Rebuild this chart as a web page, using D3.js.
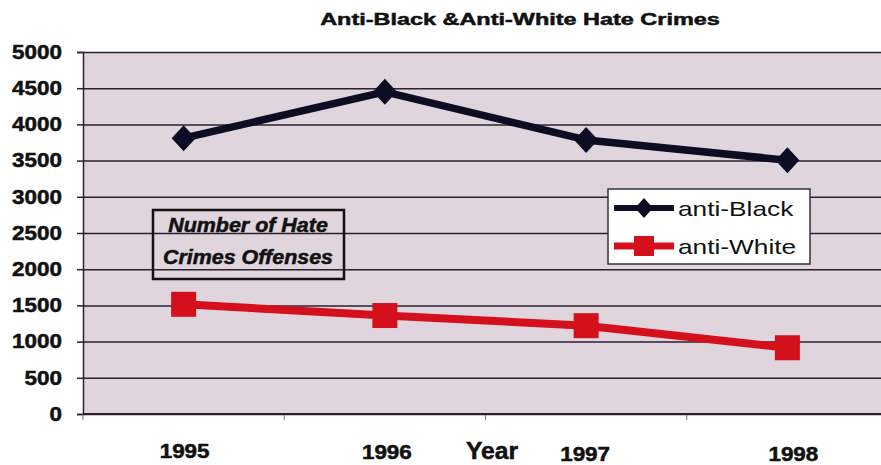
<!DOCTYPE html>
<html>
<head>
<meta charset="utf-8">
<script src="https://cdn.jsdelivr.net/npm/d3@7"></script>
<style>
  body { margin: 0; background: #fff; }
  svg { display: block; font-family: "Liberation Sans", Arial, sans-serif; }
</style>
</head>
<body>
<svg id="chart" width="881" height="465"></svg>
<script>
// chart data
var years = ["1995", "1996", "1997", "1998"];
var antiBlack = [3810, 4450, 3785, 3505];
var antiWhite = [1515, 1360, 1220, 915];
var yTicks = [0, 500, 1000, 1500, 2000, 2500, 3000, 3500, 4000, 4500, 5000];
var seriesNames = ["anti-Black", "anti-White"];

var svg = d3.select("#chart");
var margin = {top: 52, left: 83, bottom: 51, right: -7};
var width = 881 - margin.left - margin.right,
    height = 465 - margin.top - margin.bottom;

// the scanned text is wider than Arial, so stretch it sideways
function stretch(sel, k) {
  sel.each(function() {
    var len = this.getComputedTextLength();
    d3.select(this).attr("textLength", len * k).attr("lengthAdjust", "spacingAndGlyphs");
  });
}
// scanned print is a bit heavier too
function heavy(sel) {
  sel.attr("stroke", "#111").attr("stroke-width", 0.5);
}

var g = svg.append("g").attr("transform", "translate(" + margin.left + "," + margin.top + ")");

var x = d3.scaleBand().domain(years).range([0, width]);
var y = d3.scaleLinear().domain([0, 5000]).range([height, 0]);

// plot background
g.append("rect")
  .attr("width", width).attr("height", height)
  .attr("fill", "#e0d5dd");

// horizontal gridlines
g.append("g")
  .call(d3.axisLeft(y).tickValues(yTicks).tickSize(-width).tickFormat(""))
  .call(function(s) {
    s.select(".domain").remove();
    s.selectAll("line").attr("stroke", "#2b1f30").attr("stroke-width", 1.5);
  });

// y axis
var yAxis = g.append("g")
  .call(d3.axisLeft(y).tickValues(yTicks).tickFormat(d3.format("d")).tickSize(6).tickPadding(15))
  .call(function(s) {
    s.select(".domain").attr("stroke", "#2b1f30").attr("stroke-width", 1.5);
    s.selectAll("line").attr("stroke", "#2b1f30").attr("stroke-width", 1.5);
    s.selectAll("text").attr("font-size", 19.5).attr("font-weight", "bold")
      .attr("fill", "#111").attr("font-family", "Liberation Sans, Arial, sans-serif");
  });
stretch(yAxis.selectAll("text"), 1.15);
heavy(yAxis.selectAll("text"));

// x axis (ticks between categories)
var bounds = years.map(function(d) { return x(d); }).concat([width]);
g.append("g").selectAll("line").data(bounds).enter().append("line")
  .attr("x1", function(d) { return d; }).attr("x2", function(d) { return d; })
  .attr("y1", height).attr("y2", height + 6)
  .attr("stroke", "#777").attr("stroke-width", 1);
g.append("line").attr("x1", 0).attr("x2", width).attr("y1", height).attr("y2", height)
  .attr("stroke", "#2b1f30").attr("stroke-width", 2);

// the scan is slightly tilted, so labels drift a little
var labelDx = [1, 2, -1, 6];
var labelDy = [44, 45, 47, 47];
var xLabels = g.append("g").selectAll("text").data(years).enter().append("text")
  .attr("x", function(d, i) { return x(d) + x.bandwidth() / 2 + labelDx[i]; })
  .attr("y", function(d, i) { return height + labelDy[i]; })
  .attr("text-anchor", "middle")
  .attr("font-size", 19.5).attr("font-weight", "bold").attr("fill", "#111")
  .text(function(d) { return d; });
stretch(xLabels, 1.15);
heavy(xLabels);

var yearLabel = svg.append("text").attr("x", 492).attr("y", 459)
  .attr("text-anchor", "middle").attr("font-size", 23.5).attr("font-weight", "bold")
  .attr("fill", "#111").text("Year");
stretch(yearLabel, 1.05);
heavy(yearLabel);

// title
var title = svg.append("text").attr("x", 520).attr("y", 25)
  .attr("text-anchor", "middle").attr("font-size", 16.5).attr("font-weight", "bold")
  .attr("fill", "#111").text("Anti-Black &Anti-White Hate Crimes");
stretch(title, 1.42);
heavy(title);

// lines
var line = d3.line()
  .x(function(d, i) { return x(years[i]) + x.bandwidth() / 2; })
  .y(function(d) { return y(d); });

var blackCol = "#0c0d22", redCol = "#d3101c";

g.append("path").datum(antiWhite).attr("d", line)
  .attr("fill", "none").attr("stroke", redCol).attr("stroke-width", 8);
g.selectAll(".sq").data(antiWhite).enter().append("rect")
  .attr("x", function(d, i) { return x(years[i]) + x.bandwidth() / 2 - 12.5; })
  .attr("y", function(d) { return y(d) - 12.5; })
  .attr("width", 25).attr("height", 25).attr("fill", redCol);

g.append("path").datum(antiBlack).attr("d", line)
  .attr("fill", "none").attr("stroke", blackCol).attr("stroke-width", 7.5)
  .attr("stroke-linejoin", "round");
g.selectAll(".dm").data(antiBlack).enter().append("path")
  .attr("transform", function(d, i) {
    return "translate(" + (x(years[i]) + x.bandwidth() / 2) + "," + y(d) + ")";
  })
  .attr("d", "M0,-13L12,0L0,13L-12,0Z").attr("fill", blackCol);

// annotation box
svg.append("rect").attr("x", 153).attr("y", 210).attr("width", 191).attr("height", 69)
  .attr("fill", "none").attr("stroke", "#111").attr("stroke-width", 2.5);
var note = svg.append("g");
note.append("text").attr("x", 248).attr("y", 232).attr("text-anchor", "middle")
  .attr("font-size", 19.5).attr("font-weight", "bold").attr("font-style", "italic")
  .attr("fill", "#111").text("Number of Hate");
note.append("text").attr("x", 248).attr("y", 264).attr("text-anchor", "middle")
  .attr("font-size", 19.5).attr("font-weight", "bold").attr("font-style", "italic")
  .attr("fill", "#111").text("Crimes Offenses");
stretch(note.selectAll("text"), 1.1);
heavy(note.selectAll("text"));

// legend
var legend = svg.append("g").attr("transform", "translate(608,189)");
legend.append("rect").attr("width", 202).attr("height", 75)
  .attr("fill", "#fff").attr("stroke", "#333").attr("stroke-width", 1.5);
var items = legend.selectAll(".item").data(seriesNames).enter().append("g")
  .attr("transform", function(d, i) { return "translate(0," + (19 + i * 38) + ")"; });
items.append("line").attr("x1", 6).attr("x2", 66).attr("y1", 0).attr("y2", 0)
  .attr("stroke", function(d, i) { return i ? redCol : blackCol; })
  .attr("stroke-width", function(d, i) { return i ? 7 : 6; });
items.append("path")
  .attr("transform", "translate(36,0)")
  .attr("d", function(d, i) { return i ? "M-10,-10H10V10H-10Z" : "M0,-10L9,0L0,10L-9,0Z"; })
  .attr("fill", function(d, i) { return i ? redCol : blackCol; });
var legText = items.append("text").attr("x", 70).attr("y", 8)
  .attr("font-size", 21).attr("fill", "#111")
  .text(function(d) { return d; });
stretch(legText, 1.25);
</script>
</body>
</html>
